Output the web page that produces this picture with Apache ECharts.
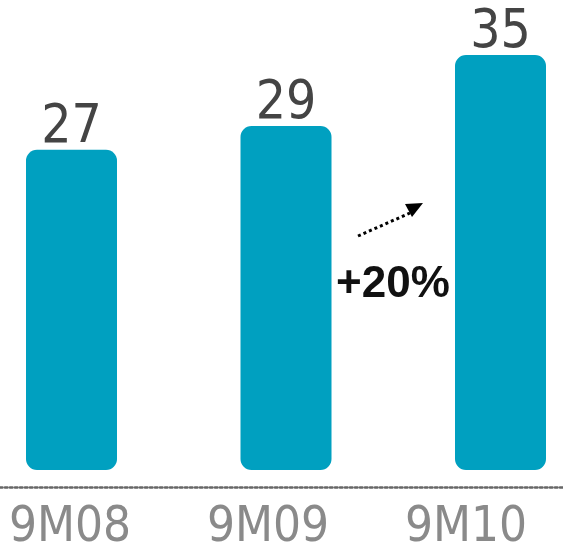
<!DOCTYPE html>
<html><head><meta charset="utf-8">
<script src="https://cdn.jsdelivr.net/npm/echarts@6/dist/echarts.min.js"></script>
<style>html,body{margin:0;padding:0;background:#fff}#c{width:563px;height:553px}</style>
</head><body><div id="c"></div>
<script>
const categories = ['9M08', '9M09', '9M10'];
const values = [27, 29, 35];
const growthLabel = '+20%';

const FONT = '"Liberation Sans Narrow", "DejaVu Sans Condensed", "Liberation Sans", sans-serif';
const chart = echarts.init(document.getElementById('c'));
chart.setOption({
  animation: false,
  backgroundColor: '#ffffff',
  grid: [
    { left: 71.5, width: 429, top: 0, bottom: 66 },
    { left: 70, width: 396, top: 0, bottom: 66 },
    { left: 0, right: 0, top: 0, bottom: 66 }
  ],
  xAxis: [
    { type: 'category', gridIndex: 0, data: categories, boundaryGap: false,
      axisLine: { show: false }, axisTick: { show: false }, axisLabel: { show: false } },
    { type: 'category', gridIndex: 1, data: categories, boundaryGap: false,
      axisLine: { show: false }, axisTick: { show: false },
      axisLabel: { show: true, color: '#8a8a8a', fontFamily: FONT, fontSize: 49, margin: 24 } },
    { type: 'category', gridIndex: 2, data: categories,
      axisLine: { show: true, onZero: false, lineStyle: { color: '#666', width: 2.5, type: [2.5, 2.5] } },
      axisTick: { show: false }, axisLabel: { show: false } }
  ],
  yAxis: [
    { type: 'value', gridIndex: 0, min: -1.433, max: 39.63, show: false, splitLine: { show: false } },
    { type: 'value', gridIndex: 1, min: 0, max: 1, show: false, splitLine: { show: false } },
    { type: 'value', gridIndex: 2, min: 0, max: 1, show: false, splitLine: { show: false } }
  ],
  series: [{
    type: 'bar', xAxisIndex: 0, yAxisIndex: 0, data: values, barWidth: 91,
    itemStyle: { color: '#00a0c0', borderRadius: 11 },
    label: { show: true, position: 'top', distance: -5, color: '#444', fontFamily: FONT, fontSize: 53 }
  }],
  graphic: [
    { type: 'line', shape: { x1: 358, y1: 236, x2: 410, y2: 213 },
      style: { stroke: '#000', lineWidth: 3, lineDash: [3, 3] } },
    { type: 'polygon', shape: { points: [[405, 204], [423, 203], [412, 217]] }, style: { fill: '#000' } },
    { type: 'text', x: 393, y: 307, style: { text: growthLabel, fill: '#111', fontFamily: '"Liberation Sans", sans-serif', fontSize: 44, fontWeight: 'bold', align: 'center', verticalAlign: 'bottom' } }
  ]
});
</script></body></html>
